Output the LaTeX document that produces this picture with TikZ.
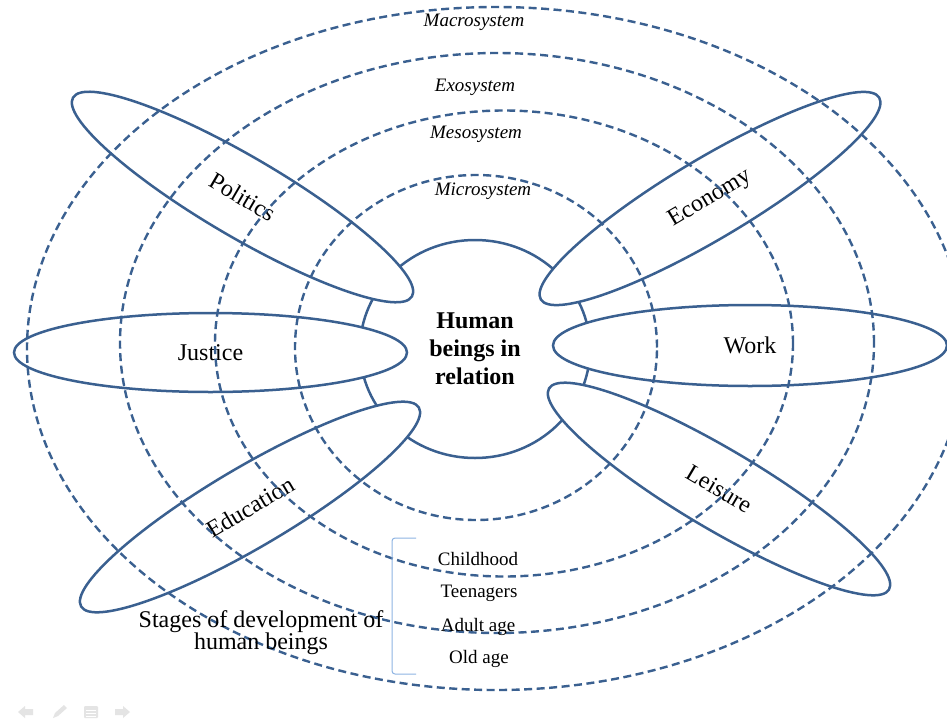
\documentclass[tikz,border=0pt]{standalone}
\usepackage{fontspec}
\setmainfont{Liberation Serif}
\usetikzlibrary{shapes.geometric}
\definecolor{lineblue}{HTML}{3A6090}
\definecolor{bracketblue}{HTML}{8EB4E3}
\definecolor{icongray}{HTML}{E4E4E4}
\begin{document}
\begin{tikzpicture}[x=1pt,y=-1pt,
  sysring/.style={ellipse, draw=lineblue, line width=2.4pt, dash pattern=on 8pt off 4.5pt, inner sep=0pt, outer sep=0pt},
  domainbox/.style={ellipse, draw=lineblue, fill=white, line width=2.5pt, inner sep=0pt, outer sep=0pt, font=\fontsize{24}{28}\selectfont},
  syslabel/.style={anchor=base, inner sep=0pt, font=\fontsize{19}{22}\selectfont\itshape},
  stagelabel/.style={anchor=base, inner sep=0pt, font=\fontsize{19}{22}\selectfont},
  iconshape/.style={fill=icongray, draw=none}
 ]
\useasboundingbox (0,0) rectangle (947,720);
\clip (0,0) rectangle (947,720);
\fill[white] (0,0) rectangle (947,720);

% central circle
\node[ellipse, draw=lineblue, line width=2.5pt, minimum width=230pt, minimum height=218pt, inner sep=0pt, align=center, font=\fontsize{24}{28}\selectfont\bfseries] (core) at (475,349) {Human\\beings in\\relation};

% domains
\node[domainbox, minimum width=393pt, minimum height=80pt, rotate=-30.4] (politics) at (242.5,197) {Politics};
\node[domainbox, minimum width=394pt, minimum height=80pt, rotate=30.8] (economy) at (710,198.5) {Economy};
\node[domainbox, minimum width=393pt, minimum height=79pt] (justice) at (210.5,352.5) {Justice};
\node[domainbox, minimum width=394pt, minimum height=81pt] (work) at (750,345.5) {Work};
\node[domainbox, minimum width=392pt, minimum height=80pt, rotate=30.5] (education) at (250,507) {Education};
\node[domainbox, minimum width=395pt, minimum height=80pt, rotate=-30.6] (leisure) at (719,489) {Leisure};

% systems
\node[sysring, minimum width=938pt, minimum height=683pt] (macro) at (496,348.5) {};
\node[sysring, minimum width=754pt, minimum height=580pt] (exo) at (497,343) {};
\node[sysring, minimum width=578pt, minimum height=466pt] (meso) at (504,343.5) {};
\node[sysring, minimum width=362pt, minimum height=345pt] (micro) at (476,347.5) {};

\node[syslabel] (macrolabel) at (474,27) {Macrosystem};
\node[syslabel] (exolabel) at (475,91) {Exosystem};
\node[syslabel] (mesolabel) at (476,138) {Mesosystem};
\node[syslabel] (microlabel) at (483,195) {Microsystem};

% stages
\node[stagelabel] (childhood) at (478,565) {Childhood};
\node[stagelabel] (teenagers) at (479,597) {Teenagers};
\node[stagelabel] (adult) at (478,631) {Adult age};
\node[stagelabel] (old) at (479,663) {Old age};
\node[align=center, inner sep=0pt, font=\fontsize{24}{22}\selectfont] (stages) at (261,633) {Stages of development of\\human beings};

\coordinate (brtop) at (416,538);
\coordinate (brbot) at (416,674);
\draw[bracketblue, line width=1pt, rounded corners=3pt] (brtop) -- (392,538) -- (392,674) -- (brbot);

% faint slide controls
\fill[iconshape] (18,712) -- (25,706) -- (25,709) -- (33,709) -- (33,715) -- (25,715) -- (25,718) -- cycle;
\fill[iconshape] (53,718) -- (55,713) -- (64,705) -- (67,708) -- (58,716) -- cycle;
\fill[iconshape, rounded corners=1pt] (84,706) rectangle (98,718);
\draw[white, line width=1pt] (86,710) -- (96,710) (86,713) -- (96,713) (86,716) -- (96,716);
\fill[iconshape] (130,712) -- (123,706) -- (123,709) -- (115,709) -- (115,715) -- (123,715) -- (123,718) -- cycle;
\end{tikzpicture}
\end{document}
